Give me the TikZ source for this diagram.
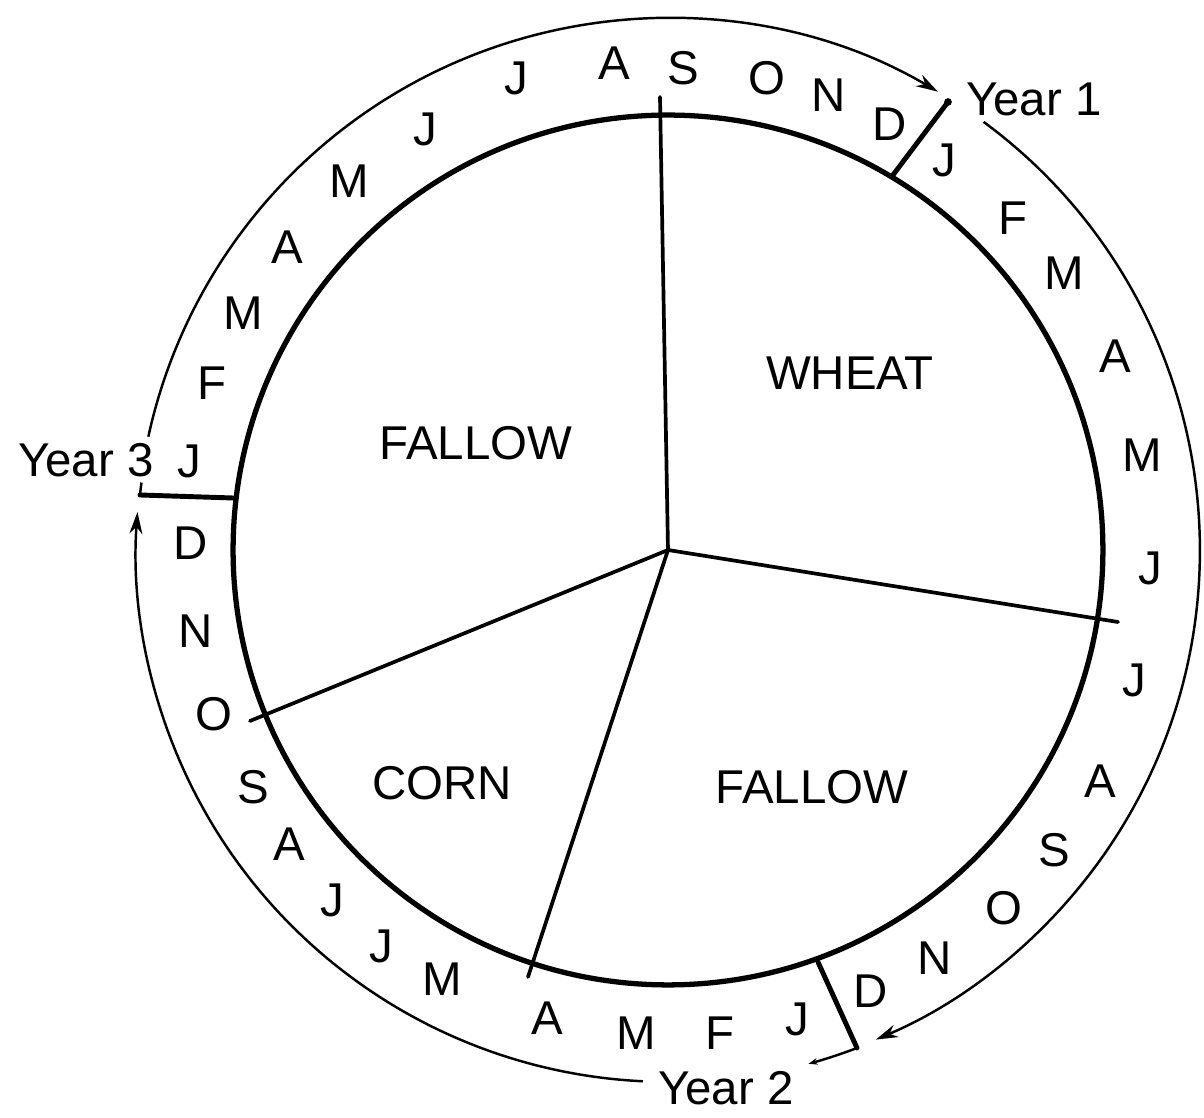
\documentclass[tikz,border=0pt]{standalone}
\usepackage{fontspec}
\setmainfont{Liberation Sans}
\usetikzlibrary{arrows.meta}
\begin{document}
\begin{tikzpicture}[x=0.02cm, y=0.02cm,
  mon/.style={font=\fontsize{27}{31}\selectfont, inner sep=0pt},
  lab/.style={font=\fontsize{27}{31}\selectfont, inner sep=0pt},
  ring/.style={line width=1.4pt},
  rim/.style={line width=3pt},
  spoke/.style={line width=2.1pt, line cap=round},
  divider/.style={line width=2.8pt, line cap=round},
  yarrow/.style={-{Stealth[length=0.44cm,width=0.26cm]}},
  smallarrow/.style={-{Stealth[length=0.18cm,width=0.13cm]}}]
\useasboundingbox (-668,-568) rectangle (536,550);

% inner disc
\coordinate (c) at (0,0);
\draw[rim] (c) circle[radius=8.7cm];

% spokes
\coordinate (s1) at (-8,453);
\coordinate (s2) at (450,-72);
\coordinate (s3) at (-140,-427);
\coordinate (s4) at (-418,-171);
\foreach \s in {s1,s2,s3,s4} \draw[spoke] (c) -- (\s);

% year dividers
\coordinate (d1i) at (225,375);
\coordinate (d1o) at (280,448);
\draw[divider] (d1i) -- (d1o);
\draw[line width=0.9pt] (d1o) circle[radius=0.06cm];

\coordinate (d2i) at (150,-412);
\coordinate (d2o) at (189,-498);
\draw[divider] (d2i) -- (d2o);
\draw[ring,smallarrow] (d2o) arc[start angle=-69.2, end angle=-74.7, radius=10.64cm];

\coordinate (d3i) at (-435,52);
\coordinate (d3o) at (-528,55);
\draw[divider] (d3i) -- (d3o);
\draw[ring] (d3o) arc[start angle=174.05, end angle=172.7, radius=10.64cm];

% outer year arcs
\coordinate (a3s) at (167.7:10.64cm);
\draw[ring,yarrow] (a3s) arc[start angle=167.7, end angle=59.5, radius=10.64cm];
\coordinate (a1s) at (53.6:10.64cm);
\draw[ring,yarrow] (a1s) arc[start angle=53.6, end angle=-67.0, radius=10.64cm];
\coordinate (a2s) at (267.3:10.64cm);
\draw[ring,yarrow] (a2s) arc[start angle=267.3, end angle=175.9, radius=10.64cm];

% year labels
\node[lab] (y1) at (366,451) {Year 1};
\node[lab] (y2) at (58,-538) {Year 2};
\node[lab] (y3) at (-582,90) {Year 3};

% crop labels
\node[lab] (wheat) at (182,177) {WHEAT};
\node[lab] (fallowa) at (-192,107) {FALLOW};
\node[lab] (corn) at (-226,-233) {CORN};
\node[lab] (fallowb) at (144,-237) {FALLOW};

% months, year 3 (left, over the top)
\foreach \x/\y/\t [count=\i] in {-479/89/J, -456/167/F, -425/237/M, -381/303/A,
  -319/369/M, -243/421/J, -152/472/J, -54/487/A, 15/482/S, 99/472/O,
  161/455/N, 222/426/D}
  \node[mon] (mc\i) at (\x,\y) {\t};

% months, year 1 (right side)
\foreach \x/\y/\t [count=\i] in {276/390/J, 345/332/F, 396/277/M, 447/194/A,
  474/95/M, 482/-18/J, 466/-130/J, 432/-231/A, 386/-300/S, 336/-358/O,
  267/-408/N, 203/-441/D}
  \node[mon] (ma\i) at (\x,\y) {\t};

% months, year 2 (bottom and left)
\foreach \x/\y/\t [count=\i] in {129/-469/J, 52/-483/F, -32/-483/M, -121/-468/A,
  -226/-429/M, -287/-396/J, -336/-350/J, -379/-294/A, -415/-237/S, -454/-164/O,
  -472/-81/N, -477/7/D}
  \node[mon] (mb\i) at (\x,\y) {\t};
\end{tikzpicture}
\end{document}
